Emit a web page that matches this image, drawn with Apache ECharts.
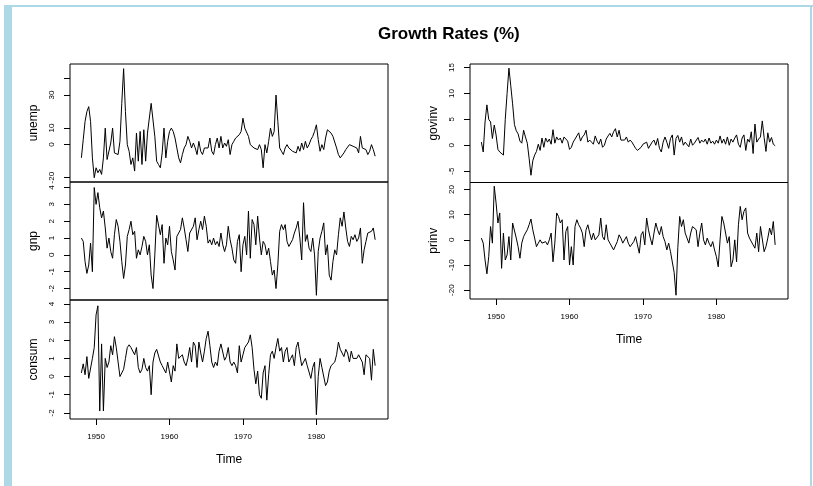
<!DOCTYPE html>
<html>
<head>
<meta charset="utf-8">
<title>Growth Rates (%)</title>
<script src="https://cdn.jsdelivr.net/npm/echarts@6/dist/echarts.min.js"></script>
<style>
  html, body { margin: 0; padding: 0; background: #fff; }
  #chart { width: 813px; height: 486px; }
</style>
</head>
<body>
<div id="chart"></div>
<script>
// quarterly series, first quarter = 1948.0
const startYear = 1948
const freq = 4

const unemp = [
  -8, 3, 14, 20, 23, 14, -8, -20, -14, -17, -15, -18, -8, 10, -9, -10,
  1, 10, -5, -4, -6, 2, 25, 46, 20, 0, -4, -12, -8, -16, 7, -10,
  8, -12, 9, -10, 7, 8, 25, 24, 5, -10, -12, -14, -5, 10, -8, 2,
  8, 10, 8, 4, -2, -8, -11, -6, -2, 0, 5, 2, -2, 1, -2, -6,
  2, -4, -6, -2, -3, -2, 4, -4, -6, 0, 4, -2, 5, -2, 1, -1,
  3, -6, 0, 2, 4, 5, 6, 8, 16, 10, 9, 5, 0, 1, -2, -1,
  -3, 0, -3, -14, 0, -5, 2, 10, 5, 8, 30, 14, -2, -4, -6, -2,
  0, -2, -3, -4, -3, -5, -1, -4, 1, -3, 2, -2, 0, 3, 5, 8,
  12, 3, -4, 0, -3, 4, 9, 8, 7, 5, 4, -2, -6, -8, -7, -5,
  -3, -2, 0, 1, -1, 0, -2, -5, 5, -2, -1, -3, -6, -4, 0, -3,
  -7
]

const gnp = [
  1.0, 0.8, -0.4, -1.1, -0.6, 0.7, -1.0, 4.0, 3.0, 3.7, 2.8, 2.2, 2.6, 1.6, 0.4, 1.0,
  0.2, -0.2, 1.2, 2.1, 1.7, 0.8, -0.4, -1.4, -0.6, 1.1, 1.5, 2.0, 1.2, 1.4, -0.2, 0.3,
  0.0, 0.5, 1.1, 0.8, 0.0, 0.6, -1.2, -2.0, 0.0, 2.35, 2.3, 1.2, 1.8, -0.5, 1.0, 0.6,
  1.7, 0.2, -0.3, -0.9, 1.1, 1.0, 1.5, 2.2, 1.6, 0.9, 0.2, 1.3, 1.4, 1.7, 2.2, 0.9,
  1.5, 2.0, 1.5, 2.3, 1.7, 0.7, 0.9, 0.6, 1.0, 0.6, 0.8, 0.5, 1.3, 0.6, 0.2, 0.6,
  1.7, 0.9, 0.4, -0.3, -0.5, 0.8, 1.2, -1.0, 0.6, 1.1, 0.0, 2.6, -0.2, 2.1, 1.8, 0.6,
  2.3, 1.0, 0.0, 0.8, 0.6, 0.0, 0.4, -0.4, -1.2, -0.9, -2.0, -0.6, 1.4, 1.8, 1.5, 1.8,
  0.8, 0.5, 0.5, 0.9, 1.3, 1.6, 2.0, 1.0, -0.3, 3.1, 0.8, 1.2, 0.4, 0.2, 1.0, 0.0,
  -2.4, 0.2, 1.0, 1.4, 1.9, 0.0, 0.6, -1.2, -1.5, -0.4, 0.3, 0.0, 1.2, 2.2, 1.7, 2.55,
  1.6, 0.8, 0.5, 1.1, 0.9, 1.2, 0.8, 1.0, 1.6, -0.5, 0.3, 0.8, 1.3, 1.2, 1.4, 1.6,
  0.9
]

const consum = [
  0.2, 0.7, 0.1, 1.1, -0.1, -0.1, 1.0, 1.6, 3.4, 3.9, -1.9, 1.8, -1.9, 1.0, 0.5, 0.8,
  1.7, 1.2, 2.2, 1.6, 0.8, 0.0, 0.1, 0.4, 1.0, 1.6, 1.75, 1.6, 1.5, 1.2, 1.6, 0.5,
  0.2, 0.4, 1.0, 0.5, 0.3, 0.6, -1.0, 0.8, 1.3, 1.5, 1.4, 0.8, 0.6, 0.5, 0.2, 0.8,
  0.9, -0.3, 0.6, 0.3, 1.8, 1.0, 1.1, 1.2, 0.8, 0.6, 1.0, 1.6, 0.8, 1.9, 1.7, 0.5,
  1.9, 1.3, 0.8, 1.4, 2.1, 2.5, 1.7, 0.8, 0.5, 0.8, 0.6, 1.4, 1.8, 1.7, 0.9, 1.1,
  1.6, 0.8, 0.6, 0.8, 0.6, 0.2, 1.7, 0.8, 1.2, 1.6, 1.7, 1.9, 2.3, 1.6, 0.4, -0.4,
  0.3, -1.0, -1.2, 0.2, 0.6, -1.3, 0.1, 1.2, 1.4, 1.0, 1.6, 2.1, 1.4, 1.6, 0.8, 1.4,
  1.6, 0.8, 1.0, 1.2, 0.6, 1.6, 1.9, 1.2, 0.6, 0.8, 1.0, 0.6, 0.5, -0.1, 0.5, 0.8,
  -2.1, 0.0, 1.0, 0.5, 0.4, -0.5, -0.3, 0.3, 0.6, 0.6, 0.8, 1.2, 1.9, 1.5, 1.4, 1.1,
  1.5, 1.3, 0.8, 1.4, 1.0, 1.0, 1.0, 1.2, 1.3, 0.8, 0.1, 1.2, 1.2, 1.0, -0.2, 1.5,
  0.6
]

const govinv = [
  0.6, -1.3, 4.5, 7.8, 5.0, 4.5, 1.3, 3.9, 2.0, -0.8, -1.3, -1.0, -1.9, 5.0, 10.0, 14.9,
  11.5, 8.0, 4.0, 2.8, 2.2, 0.8, 0.4, 2.9, 1.6, 0.4, -2.5, -5.8, -3.0, -1.9, -1.2, 0.2,
  -1.0, 1.4, -0.4, 1.4, 0.6, 1.2, 0.2, 3.0, 0.4, 1.6, 1.0, 1.4, 0.4, 1.6, 1.3, 0.8,
  -0.8, -0.4, 0.6, 1.2, 1.8, 2.4, 0.8, 1.6, 2.0, 2.9, 0.6, 1.0, 0.6, 0.2, 1.8, 0.8,
  0.2, 1.2, -0.4, 0.0, 1.2, 1.8, 2.3, 1.6, 2.6, 3.2, 1.6, 2.9, 1.0, 1.3, 1.0, 1.6,
  0.6, 1.0, 0.6, 0.0, -0.6, -1.0, -1.3, -0.4, 0.2, 0.0, 0.6, -0.6, -0.3, 0.6, 1.0, 0.0,
  1.3, -0.6, -1.3, 0.6, 1.6, 0.6, -0.6, 1.3, 2.0, -1.9, 1.3, 1.9, 0.6, 1.6, 0.0, 0.6,
  0.3, -0.3, 1.2, 0.0, 0.4, 0.6, 1.5, 0.4, 1.0, 0.6, 1.2, 0.2, 1.4, 0.4, 0.8, 0.2,
  1.0, 0.4, 1.8, 0.4, 1.2, 0.2, 1.6, 0.0, 1.2, 0.6, 1.4, 2.0, 0.2, -0.4, 1.4, 2.0,
  -1.0, 1.2, 0.6, 2.6, -1.6, 4.1, 0.6, 1.2, 1.6, 4.7, 1.5, -1.2, 2.4, 0.6, 1.5, 0.2,
  -0.1
]

const prinv = [
  0.7, -1.3, -8, -13.5, -6.7, 5.3, -1.3, 21.3, 14.7, 6.7, 10.7, -11.3, 2.7, -8, -6, 1.3,
  -8, 6.7, 7.3, 0.7, -2.7, -7.3, -1.3, 1.3, 2.7, 4, 6, 8.3, 4, 0.7, -2.7, -1.3,
  0, -1.3, -2, -0.7, -2, 0, 2.7, -8.7, -1.3, 10.7, 9.3, 6.7, 8, -8, 3.3, 5.3,
  -10, -2.7, -10, 5.3, 8, 6, 4.7, 2.7, -2.7, 4, 6, 2.7, 0, 2.7, 0, 0,
  2, 8.7, 1.3, 0, 6, 0, -1.3, -0.7, -4, -4.7, -0.7, 2, 0.7, -1.3, -2, 1.3,
  -1.3, -2.7, -2.7, -0.7, 1.3, -2, -5.3, 2, 3.3, -2, 8.7, 4, 0.7, -2, 2.7, 6.7,
  4, 2, 5.3, 1.3, -0.7, -4, -1.3, -4.7, -5.3, -13, -22, -3, 9.3, 5.3, 8, 2.7,
  0.7, -1.3, 2.7, 5.3, 4.7, 4, -2.7, 2.7, 6.7, 0, -2, 0.7, -1.3, -2.7, -0.7, -4,
  -6.7, -10.7, 0, 9.3, 6.7, 2.7, -1.3, 1.3, -10.7, -8, 0, -8.7, 6, 13.3, 8, 11.3,
  12.7, 2.7, 0.7, 0.7, -2, -3.3, 2.7, -4.7, 5.3, 4.7, -4.7, -2.7, 0.7, 4.7, 2, 7.3,
  -2
]

const xTicks = [1950, 1960, 1970, 1980]

// one entry per panel: name, values, y ticks, y labels, axis range
const panels = [
  { name: 'unemp', data: unemp, ticks: [-20, 0, 10, 30, 40], labels: [-20, 0, 10, 30], min: -22.6, max: 48.8, col: 0, row: 0 },
  { name: 'gnp', data: gnp, ticks: [-2, -1, 0, 1, 2, 3, 4], labels: [-2, -1, 0, 1, 2, 3, 4], min: -2.68, max: 4.33, col: 0, row: 1 },
  { name: 'consum', data: consum, ticks: [-2, -1, 0, 1, 2, 3, 4], labels: [-2, -1, 0, 1, 2, 3, 4], min: -2.34, max: 4.22, col: 0, row: 2 },
  { name: 'govinv', data: govinv, ticks: [-5, 0, 5, 10, 15], labels: [-5, 0, 5, 10, 15], min: -7.2, max: 15.7, col: 1, row: 0 },
  { name: 'prinv', data: prinv, ticks: [-20, -10, 0, 10, 20], labels: [-20, -10, 0, 10, 20], min: -23.5, max: 22.8, col: 1, row: 1 }
]

const colRows = [3, 2]
const font = '"Liberation Sans", Arial, sans-serif'

const chart = echarts.init(document.getElementById('chart'), null, { renderer: 'canvas' })

const grids = []
const xAxes = []
const yAxes = []
const series = []

panels.forEach((p, k) => {
  const left = p.col === 0 ? 70 : 470
  const boxes = p.col === 0 ? [[64, 118], [182, 118], [300, 119]] : [[64, 118.5], [182.5, 116.5]]
  const bottom = p.row === colRows[p.col] - 1
  grids.push({
    left: left, top: boxes[p.row][0], width: 318, height: boxes[p.row][1],
    show: true, borderColor: '#000', borderWidth: 1, backgroundColor: 'transparent'
  })
  xAxes.push({
    type: 'value', gridIndex: k, min: 1946.45, max: 1989.75, position: 'bottom',
    show: bottom,
    axisLine: { show: false, onZero: false },
    splitLine: { show: false },
    axisTick: { show: bottom, customValues: xTicks, length: 6, lineStyle: { color: '#000' } },
    axisLabel: {
      show: bottom, customValues: xTicks, formatter: v => String(v),
      color: '#000', fontSize: 8, fontFamily: font, margin: 14
    },
    name: bottom ? 'Time' : '', nameLocation: 'middle', nameGap: 35,
    nameTextStyle: { color: '#000', fontSize: 12, fontFamily: font }
  })
  yAxes.push({
    type: 'value', gridIndex: k, min: p.min, max: p.max, position: 'left',
    axisLine: { show: false, onZero: false },
    splitLine: { show: false },
    axisTick: { show: true, customValues: p.ticks, length: 6, lineStyle: { color: '#000' } },
    axisLabel: { customValues: p.labels, rotate: 90, color: '#000', fontSize: 8, fontFamily: font, margin: 14 },
    name: p.name, nameLocation: 'middle', nameGap: 30,
    nameTextStyle: { color: '#000', fontSize: 12, fontFamily: font }
  })
  series.push({
    type: 'line', xAxisIndex: k, yAxisIndex: k,
    data: p.data.map((v, i) => [startYear + i / freq, v]),
    showSymbol: false, silent: true,
    lineStyle: { color: '#000', width: 1 }
  })
})

chart.setOption({
  animation: false,
  backgroundColor: '#fff',
  title: {
    text: 'Growth Rates (%)', left: 373, top: 21,
    textStyle: { color: '#000', fontSize: 17, fontWeight: 'bold', fontFamily: font }
  },
  // light blue page frame
  graphic: [
    { type: 'rect', shape: { x: 4, y: 5, width: 8, height: 481 }, style: { fill: '#add8e6' } },
    { type: 'rect', shape: { x: 4, y: 5, width: 809, height: 2 }, style: { fill: '#add8e6' } },
    { type: 'rect', shape: { x: 810, y: 5, width: 2, height: 481 }, style: { fill: '#add8e6' } }
  ],
  grid: grids,
  xAxis: xAxes,
  yAxis: yAxes,
  series: series
})
</script>
</body>
</html>
